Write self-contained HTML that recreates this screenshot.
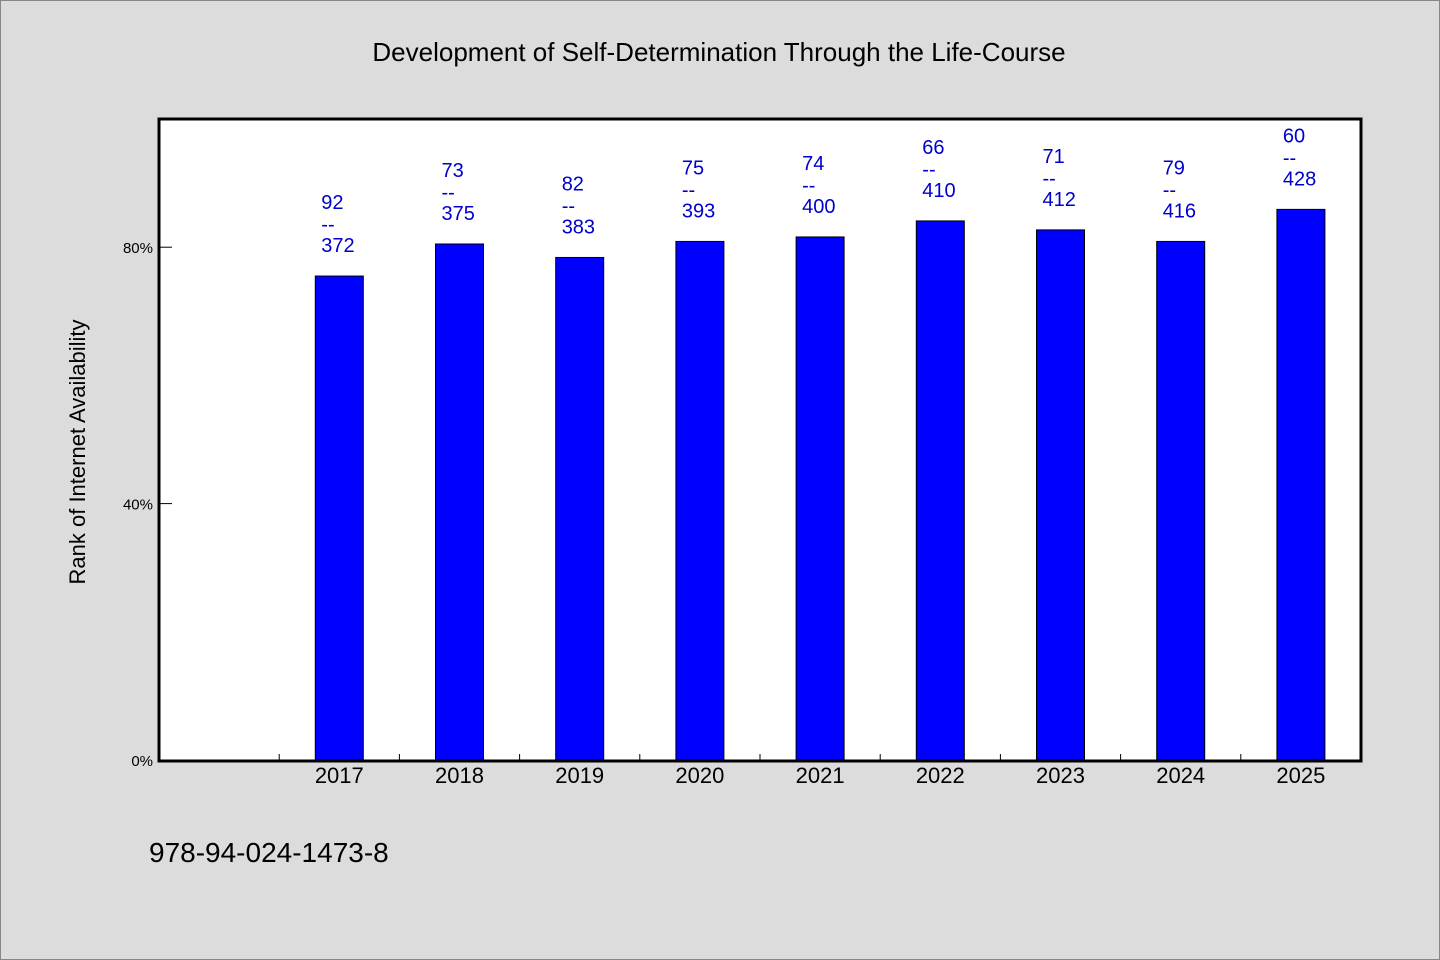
<!DOCTYPE html>
<html><head><meta charset="utf-8"><style>
html,body{margin:0;padding:0;background:#dcdcdc;}
svg{display:block;font-family:"WenQuanYi Zen Hei","Liberation Sans",sans-serif;}
</style></head><body>
<svg id="chart" width="1440" height="960" viewBox="0 0 1440 960">
<rect x="0.5" y="0.5" width="1439" height="959" fill="#dcdcdc" stroke="#888"/>
<text x="719" y="61" text-anchor="middle" font-size="26" fill="#000">Development of Self-Determination Through the Life-Course</text>
<rect x="159" y="119" width="1202" height="642" fill="#fff"/>
<g id="bars"></g>
<g id="axes"></g>
<text transform="translate(85,452) rotate(-90)" text-anchor="middle" font-size="22" fill="#000">Rank of Internet Availability</text>
<text x="149" y="862" font-size="28" fill="#000">978-94-024-1473-8</text>
</svg>
<script>
const categories=["2017","2018","2019","2020","2021","2022","2023","2024","2025"];
const values=[75.5,80.5,78.4,80.9,81.6,84.1,82.7,80.9,85.9];
const topLabels=["92","73","82","75","74","66","71","79","60"];
const bottomLabels=["372","375","383","393","400","410","412","416","428"];
const yTicks=[0,40,80];
const NS="http://www.w3.org/2000/svg";
const L=159,R=1361,T=119,B=760,slots=10,sw=(R-L)/slots;
const y=v=>B-(B-T)*v/100;
const xc=i=>L+sw*(i+1.5);
function mk(tag,attrs,parent){const e=document.createElementNS(NS,tag);for(const k in attrs)e.setAttribute(k,attrs[k]);parent.appendChild(e);return e;}
const bars=document.getElementById('bars'),axes=document.getElementById('axes');
categories.forEach((c,i)=>{
  const cx=xc(i),top=y(values[i]);
  const r=mk('rect',{x:cx-24,y:top,width:48,height:B-top,fill:'#0000ff',stroke:'#000','stroke-width':1},bars);
  
  
  const t1=mk('text',{x:cx-18,y:top-67,'font-size':20,fill:'#0000cc'},bars);t1.textContent=topLabels[i];
  
  
  const t2=mk('text',{x:cx-18,y:top-45,'font-size':20,fill:'#0000cc'},bars);t2.textContent='--';
  
  
  const t3=mk('text',{x:cx-18,y:top-24,'font-size':20,fill:'#0000cc'},bars);t3.textContent=bottomLabels[i];
  
  
  const xl=mk('text',{x:cx,y:783,'text-anchor':'middle','font-size':22,fill:'#000'},axes);xl.textContent=c;
  
  
});
for(let k=1;k<slots;k++){
  const tx=L+sw*k;
  const tk=mk('line',{x1:tx,x2:tx,y1:B,y2:B-6,stroke:'#000','stroke-width':1},axes);
  
  
}
yTicks.forEach(v=>{
  const yy=y(v);
  const tk=mk('line',{x1:L,x2:L+13,y1:yy,y2:yy,stroke:'#000','stroke-width':1},axes);
  
  
  const tl=mk('text',{x:153,y:yy+6,'text-anchor':'end','font-size':15,fill:'#000'},axes);tl.textContent=v+'%';
  
  
});
const frame=mk('rect',{x:L,y:T,width:R-L,height:B-T+1,fill:'none',stroke:'#000','stroke-width':3},axes);


</script>
</body></html>
